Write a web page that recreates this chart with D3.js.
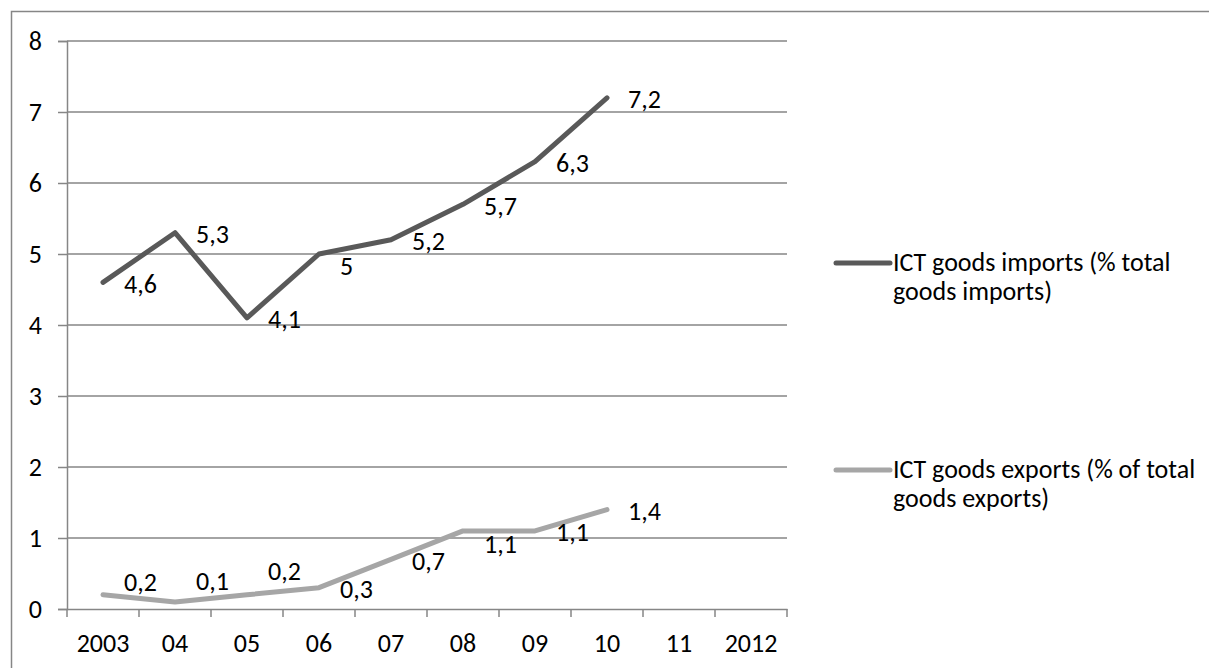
<!DOCTYPE html>
<html>
<head>
<meta charset="utf-8">
<script src="https://cdnjs.cloudflare.com/ajax/libs/d3/7.8.5/d3.min.js"></script>
<style>
  html, body { margin: 0; padding: 0; background: #fff; }
  svg { display: block; font-family: Calibri, Carlito, "Open Sans", sans-serif; }
</style>
</head>
<body>
<svg id="chart" width="1209" height="668"></svg>
<script>
// Years on the category axis
const categories = ["2003", "04", "05", "06", "07", "08", "09", "10", "11", "2012"];
// ICT goods imports, % of total goods imports
const importsValues = [4.6, 5.3, 4.1, 5, 5.2, 5.7, 6.3, 7.2];
// ICT goods exports, % of total goods exports
const exportsValues = [0.2, 0.1, 0.2, 0.3, 0.7, 1.1, 1.1, 1.4];
// Value axis ticks
const yTicks = [0, 1, 2, 3, 4, 5, 6, 7, 8];
const seriesNames = [
  ["ICT goods imports (% total", "goods imports)"],
  ["ICT goods exports (% of total", "goods exports)"]
];

// Vertical nudges of the value labels (px) so they clear the lines
const importsLabelDy = [0, 0, 0, 10, 0, 0, 0, 0];
const exportsLabelDy = [-14, -22, -25, 0, 0, 12, 0, 0];

const svg = d3.select("#chart");
const plot = { left: 67, right: 787, top: 41, bottom: 609 };
const gridColor = "#868686";
const fontSize = 26;

const fmt = d3.formatLocale({ decimal: ",", thousands: ".", grouping: [3], currency: ["", ""] }).format("~g");

// Chart border (extends past the right and bottom of the view)
svg.append("rect")
  .attr("x", 11.5).attr("y", 11.5)
  .attr("width", 1300).attr("height", 800)
  .attr("fill", "none").attr("stroke", gridColor).attr("stroke-width", 1.5);

const x = d3.scaleBand().domain(categories).range([plot.left, plot.right]).padding(0);
const y = d3.scaleLinear().domain([0, 8]).range([plot.bottom, plot.top]);
const cx = c => x(c) + x.bandwidth() / 2;

// Horizontal gridlines
svg.append("g")
  .selectAll("line")
  .data(yTicks.filter(d => d > 0))
  .join("line")
  .attr("x1", plot.left).attr("x2", plot.right)
  .attr("y1", d => y(d)).attr("y2", d => y(d))
  .attr("stroke", gridColor).attr("stroke-width", 1.5);

// Value axis
const yAxis = svg.append("g")
  .attr("transform", `translate(${plot.left},0)`)
  .call(d3.axisLeft(y).tickValues(yTicks).tickSize(9).tickPadding(16).tickFormat(d3.format("d")));
yAxis.attr("font-family", null).attr("font-size", null);
yAxis.select(".domain").attr("stroke", gridColor).attr("stroke-width", 1.5);
yAxis.selectAll(".tick line").attr("stroke", gridColor).attr("stroke-width", 1.5);
yAxis.selectAll("text").attr("fill", "#000").style("font-size", fontSize + "px");

// Category axis: labels centred, tick marks on the category boundaries
const xAxis = svg.append("g")
  .attr("transform", `translate(0,${plot.bottom})`)
  .call(d3.axisBottom(x).tickSize(0).tickPadding(25).tickSizeOuter(0));
xAxis.attr("font-family", null).attr("font-size", null);
xAxis.select(".domain").attr("stroke", gridColor).attr("stroke-width", 1.5);
xAxis.selectAll("text").attr("fill", "#000").style("font-size", fontSize + "px");

const bounds = categories.map(c => x(c)).concat([plot.right]);
svg.append("g")
  .selectAll("line")
  .data(bounds)
  .join("line")
  .attr("x1", d => d).attr("x2", d => d)
  .attr("y1", plot.bottom).attr("y2", plot.bottom + 8)
  .attr("stroke", gridColor).attr("stroke-width", 1.5);

const series = [
  { values: importsValues, dy: importsLabelDy, color: "#595959", name: seriesNames[0], legendY: 263 },
  { values: exportsValues, dy: exportsLabelDy, color: "#a6a6a6", name: seriesNames[1], legendY: 470 }
];

const line = d3.line()
  .x((d, i) => cx(categories[i]))
  .y(d => y(d));

series.forEach(s => {
  svg.append("path")
    .datum(s.values)
    .attr("d", line)
    .attr("fill", "none")
    .attr("stroke", s.color)
    .attr("stroke-width", 5)
    .attr("stroke-linejoin", "round")
    .attr("stroke-linecap", "round");

  svg.append("g")
    .selectAll("text")
    .data(s.values)
    .join("text")
    .attr("x", (d, i) => cx(categories[i]) + 21)
    .attr("y", (d, i) => y(d) + 2 + s.dy[i])
    .attr("dy", "0.33em")
    .attr("fill", "#000")
    .style("font-size", fontSize + "px")
    .text(d => fmt(d));

  // Legend entry: swatch line and a two-line name
  const lg = svg.append("g");
  lg.append("line")
    .attr("x1", 836).attr("x2", 890)
    .attr("y1", s.legendY).attr("y2", s.legendY)
    .attr("stroke", s.color).attr("stroke-width", 5)
    .attr("stroke-linecap", "round");
  lg.selectAll("text")
    .data(s.name)
    .join("text")
    .attr("x", 893)
    .attr("y", (d, i) => s.legendY + 8 + i * 29)
    .attr("fill", "#000")
    .style("font-size", fontSize + "px")
    .text(d => d);
});
</script>
</body>
</html>
